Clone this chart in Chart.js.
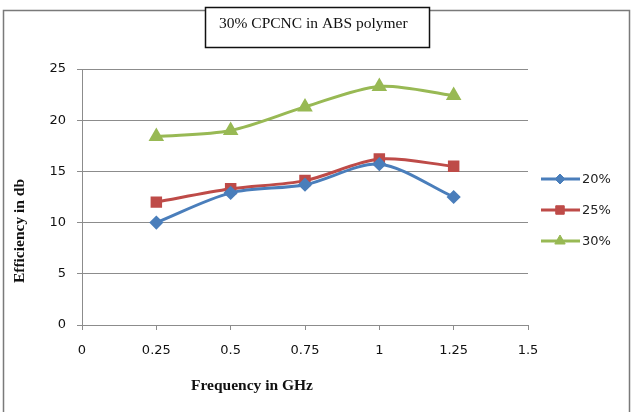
<!DOCTYPE html>
<html>
<head>
<meta charset="utf-8">
<script src="https://cdn.jsdelivr.net/npm/chart.js"></script>
<style>
  html, body { margin: 0; padding: 0; background: #fff; }
  #wrap { width: 637px; height: 412px; }
</style>
</head>
<body>
<div id="wrap"><canvas id="chart" width="637" height="412"></canvas></div>
<script>
// frequency (GHz) and efficiency (db)
const frequency = [0.25, 0.5, 0.75, 1, 1.25];
const eff20 = [10.0, 12.9, 13.7, 15.7, 12.5];
const eff25 = [12.0, 13.3, 14.1, 16.2, 15.5];
const eff30 = [18.4, 19.0, 21.3, 23.3, 22.4];
const xTicks = [0, 0.25, 0.5, 0.75, 1, 1.25, 1.5];
const yTicks = [0, 5, 10, 15, 20, 25];

const chartTitle = "30% CPCNC in ABS polymer";
const xTitle = "Frequency in GHz";
const yTitle = "Efficiency in db";

const toPoints = (vals) => frequency.map((f, i) => ({ x: f, y: vals[i] }));

const series = [
    { label: "20%", data: toPoints(eff20), color: "#4a7ebb", style: "rectRot", radius: 5 },
    { label: "25%", data: toPoints(eff25), color: "#be4b48", style: "rect", radius: 6 },
    { label: "30%", data: toPoints(eff30), color: "#98b954", style: "triangle", radius: 6 }
];

const tickFont = { family: "DejaVu Sans", size: 13 };
const serif = "'Liberation Serif', 'DejaVu Serif', serif";

// рамка, заголовок, подписи осей и легенда
const decorPlugin = {
    id: "decor",
    afterDraw(chart) {
        const ctx = chart.ctx;
        ctx.save();

        // outer border (no bottom line visible)
        ctx.strokeStyle = "#7a7a7a";
        ctx.lineWidth = 1.5;
        ctx.beginPath();
        ctx.moveTo(3.5, 412);
        ctx.lineTo(3.5, 10.5);
        ctx.lineTo(629.5, 10.5);
        ctx.lineTo(629.5, 412);
        ctx.stroke();

        // title box
        ctx.fillStyle = "#fff";
        ctx.fillRect(205, 7, 225, 41);
        ctx.strokeStyle = "#111";
        ctx.lineWidth = 1.5;
        ctx.strokeRect(205.5, 7.5, 224, 40);
        ctx.fillStyle = "#111";
        ctx.font = "15.5px " + serif;
        ctx.textAlign = "left";
        ctx.textBaseline = "middle";
        ctx.fillText(chartTitle, 219, 24);

        // axis titles
        ctx.font = "bold 15.5px " + serif;
        ctx.textAlign = "center";
        ctx.fillText(xTitle, 252, 386);
        ctx.save();
        ctx.translate(20, 231);
        ctx.rotate(-Math.PI / 2);
        ctx.fillText(yTitle, 0, 0);
        ctx.restore();

        // legend
        const legendY = [179, 210, 241];
        ctx.font = "13px DejaVu Sans";
        ctx.textAlign = "left";
        chart.data.datasets.forEach((ds, i) => {
            const y = legendY[i];
            ctx.strokeStyle = ds.borderColor;
            ctx.fillStyle = ds.backgroundColor;
            ctx.lineWidth = 3;
            ctx.beginPath();
            ctx.moveTo(541, y);
            ctx.lineTo(580, y);
            ctx.stroke();
            ctx.lineWidth = 1;
            Chart.helpers.drawPoint(ctx, {
                pointStyle: ds.pointStyle,
                radius: ds.pointRadius,
                rotation: 0,
                borderWidth: 1
            }, 560, y);
            ctx.fillStyle = "#222";
            ctx.fillText(ds.label, 582, y + 1);
        });

        ctx.restore();
    }
};

const ctx = document.getElementById("chart").getContext("2d");
new Chart(ctx, {
    type: "scatter",
    data: {
        datasets: series.map(s => ({
            label: s.label,
            data: s.data,
            showLine: true,
            borderColor: s.color,
            backgroundColor: s.color,
            borderWidth: 3,
            tension: 0.3,
            pointStyle: s.style,
            pointRadius: s.radius,
            pointHoverRadius: s.radius,
            pointBorderColor: s.color,
            pointBackgroundColor: s.color
        }))
    },
    options: {
        responsive: false,
        animation: false,
        layout: { padding: { top: 69, right: 109, bottom: 8, left: 8 } },
        plugins: {
            legend: { display: false },
            title: { display: false },
            tooltip: { enabled: false }
        },
        scales: {
            x: {
                type: "linear",
                min: 0,
                max: 1.5,
                afterBuildTicks: (axis) => { axis.ticks = xTicks.map(v => ({ value: v })); },
                afterFit: (axis) => { axis.height = 79; },
                grid: {
                    drawOnChartArea: false,
                    drawTicks: true,
                    tickLength: 5,
                    color: "#8c8c8c"
                },
                border: { color: "#8c8c8c", width: 1 },
                ticks: {
                    color: "#111",
                    font: tickFont,
                    padding: 13,
                    maxRotation: 0,
                    callback: (v) => String(v)
                }
            },
            y: {
                min: 0,
                max: 25,
                afterBuildTicks: (axis) => { axis.ticks = yTicks.map(v => ({ value: v })); },
                afterFit: (axis) => { axis.width = 74; },
                grid: {
                    color: "#8c8c8c",
                    tickLength: 5,
                    drawTicks: true
                },
                border: { color: "#8c8c8c", width: 1 },
                ticks: {
                    color: "#111",
                    font: tickFont,
                    padding: 11
                }
            }
        }
    },
    plugins: [decorPlugin]
});
</script>
</body>
</html>
